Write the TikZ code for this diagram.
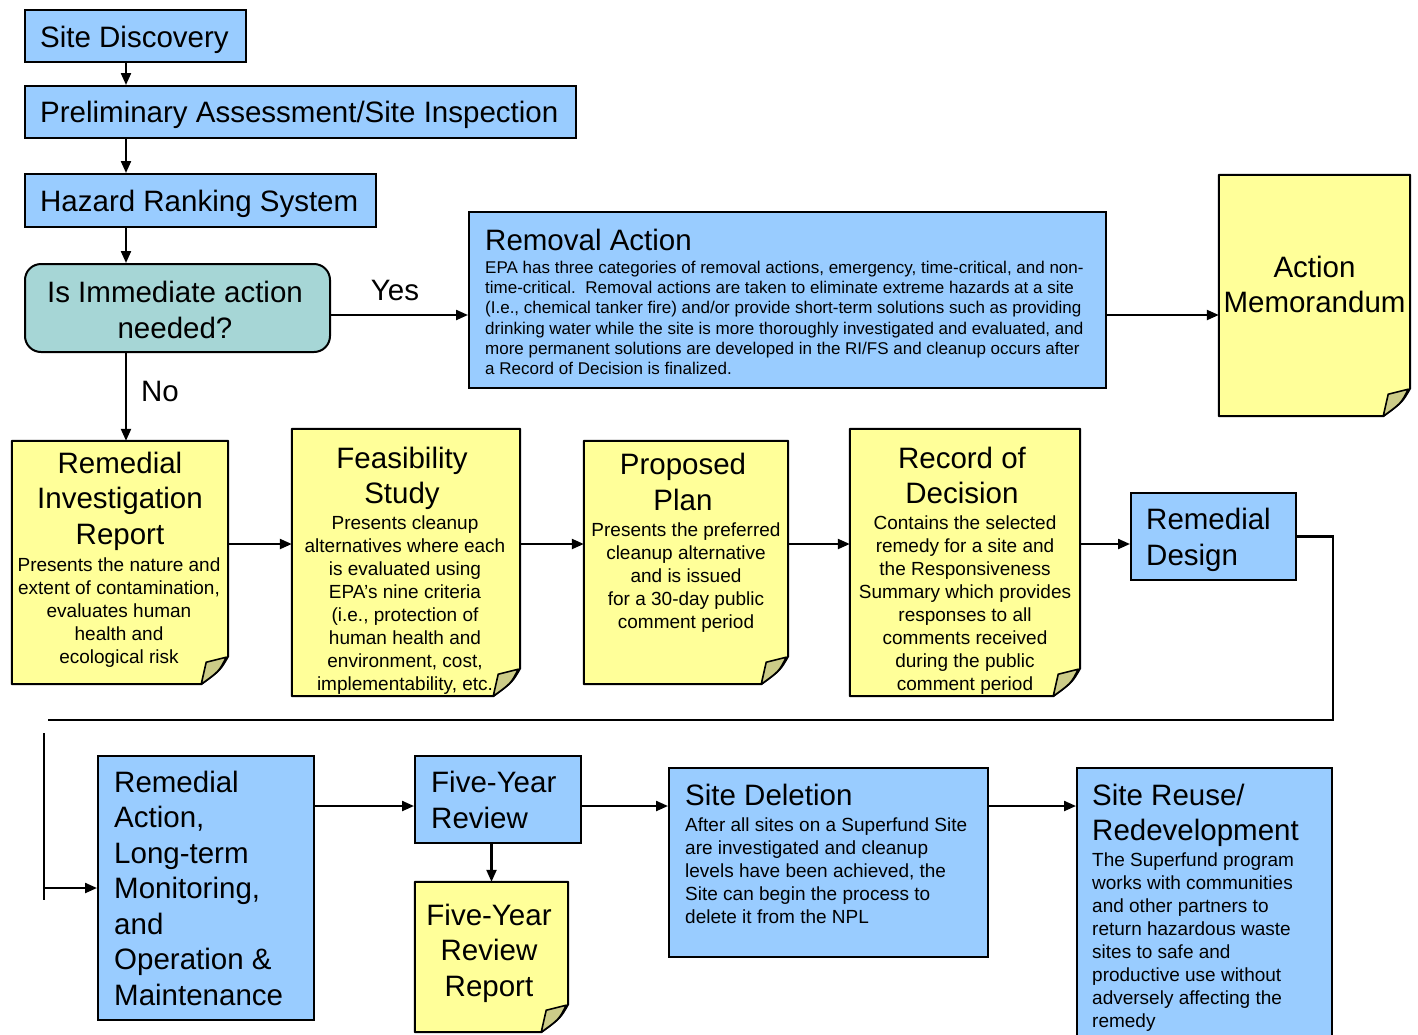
\documentclass[tikz,border=0pt]{standalone}
\usepackage{fontspec}
\setmainfont{Liberation Sans}
\usetikzlibrary{arrows.meta}
\definecolor{boxblue}{RGB}{153,204,255}
\definecolor{noteyellow}{RGB}{255,255,153}
\definecolor{foldolive}{RGB}{204,204,136}
\definecolor{decteal}{RGB}{166,214,214}
\newcommand\TT{\fontsize{29.5}{35.5}\selectfont}
\newcommand\BT{\fontsize{19}{23}\selectfont}
\newcommand\ST{\fontsize{17}{20.2}\selectfont}
\tikzset{
  bluebox/.style={draw=black, line width=2pt, fill=boxblue, inner sep=0pt},
  ghost/.style={draw=none, fill=none, inner sep=0pt},
  notefill/.style={draw=black, line width=2pt, fill=noteyellow, line join=round},
  foldfill/.style={draw=black, line width=1.6pt, fill=foldolive, line join=round},
  txt/.style={inner sep=0pt, text=black},
  conn/.style={draw=black, line width=2.2pt},
  arr/.style={conn, -{Triangle[length=12pt,width=10pt]}},
}
\newcommand\boxnode[6]{%
  \node[#1, minimum width={(#5-#3)*1pt}, minimum height={(#6-#4)*1pt}] (#2) at ({(#3+#5)/2},{(#4+#6)/2}) {};}
\newcommand\notebg[1]{%
  \path[notefill] (#1.north west) -- (#1.north east) -- ([yshift=28pt]#1.south east)
     .. controls ([xshift=-8pt,yshift=14pt]#1.south east) .. ([xshift=-27pt]#1.south east) -- (#1.south west) -- cycle;
  \path[foldfill] ([xshift=-2pt,yshift=27pt]#1.south east) -- ([xshift=-22pt,yshift=22pt]#1.south east)
     -- ([xshift=-27pt]#1.south east) .. controls ([xshift=-9pt,yshift=13pt]#1.south east) .. cycle;}
\begin{document}
\begin{tikzpicture}[x=1pt,y=-1pt]
\useasboundingbox (0,0) rectangle (1418,1034);
\fill[white] (0,0) rectangle (1418,1034);
\clip (0,0) rectangle (1418,1034);

% top column
\boxnode{bluebox}{sd}{25}{10}{246}{62}
\node[txt, anchor=west, font=\TT] (sd-t) at (40,40) {Site Discovery};
\boxnode{bluebox}{pa}{25}{86}{576}{138}
\node[txt, anchor=west, font=\TT] (pa-t) at (40,115) {Preliminary Assessment/Site Inspection};
\boxnode{bluebox}{hrs}{25}{174}{376}{227}
\node[txt, anchor=west, font=\TT] (hrs-t) at (40,204) {Hazard Ranking System};
\node[draw=black, line width=2pt, fill=decteal, rounded corners=16pt, minimum width=305pt, minimum height=88pt, inner sep=0pt] (dec) at (177.5,308) {};
\node[txt, font=\TT, align=center] (dec-t) at (175,310) {Is Immediate action\\needed?};

% removal action
\boxnode{bluebox}{ra}{469}{212}{1106}{388}
\node[txt, anchor=west, font=\TT] (ra-t) at (485,240) {Removal Action};
\node[txt, anchor=west, font=\ST, align=left] (ra-b) at (485,318) {EPA has three categories of removal actions, emergency, time-critical, and non-\\time-critical.\ \ Removal actions are taken to eliminate extreme hazards at a site\\(I.e., chemical tanker fire) and/or provide short-term solutions such as providing\\drinking water while the site is more thoroughly investigated and evaluated, and\\more permanent solutions are developed in the RI/FS and cleanup occurs after\\a Record of Decision is finalized.};

% action memorandum
\boxnode{ghost}{am}{1219}{175}{1410}{416}
\notebg{am}
\node[txt, font=\TT, align=center] (am-t) at (1314.5,284.5) {Action\\Memorandum};

% second row
\boxnode{ghost}{ri}{12}{441}{228}{684}
\notebg{ri}
\node[txt, font=\TT, align=center] (ri-t) at (120,501) {Remedial\\Investigation\\Report};
\node[txt, font=\BT, align=center] (ri-b) at (119,613) {Presents the nature and\\extent of contamination,\\evaluates human\\health and\\ecological risk};

\boxnode{ghost}{fs}{292}{429}{520}{696}
\notebg{fs}
\node[txt, font=\TT, align=center] (fs-t) at (402,478.5) {Feasibility\\Study};
\node[txt, font=\BT, align=center] (fs-b) at (405,605.5) {Presents cleanup\\alternatives where each\\is evaluated using\\EPA's nine criteria\\(i.e., protection of\\human health and\\environment, cost,\\implementability, etc.};

\boxnode{ghost}{pp}{584}{441}{788}{684}
\notebg{pp}
\node[txt, font=\TT, align=center] (pp-t) at (683,482) {Proposed\\Plan};
\node[txt, font=\BT, align=center] (pp-b) at (686,578) {Presents the preferred\\cleanup alternative\\and is issued\\for a 30-day public\\comment period};

\boxnode{ghost}{rod}{850}{429}{1080}{696}
\notebg{rod}
\node[txt, font=\TT, align=center] (rod-t) at (962,475.5) {Record of\\Decision};
\node[txt, font=\BT, align=center] (rod-b) at (965,605.5) {Contains the selected\\remedy for a site and\\the Responsiveness\\Summary which provides\\responses to all\\comments received\\during the public\\comment period};

\boxnode{bluebox}{rd}{1131}{493}{1296}{580}
\node[txt, anchor=west, font=\TT, align=left] (rd-t) at (1146,540) {Remedial\\Design};

% third row
\boxnode{bluebox}{rmact}{98}{756}{314}{1020}
\node[txt, anchor=west, font=\TT, align=left] (rmact-t) at (114,888) {Remedial\\Action,\\Long-term\\Monitoring,\\and\\Operation \&\\Maintenance};
\boxnode{bluebox}{fyr}{415}{756}{581}{843}
\node[txt, anchor=west, font=\TT, align=left] (fyr-t) at (431,800) {Five-Year\\Review};

\boxnode{ghost}{fyrr}{415}{882}{568}{1032}
\notebg{fyrr}
\node[txt, font=\TT, align=center] (fyrr-t) at (489,953) {Five-Year\\Review\\Report};

\boxnode{bluebox}{sdel}{669}{768}{988}{957}
\node[txt, anchor=west, font=\TT] (sdel-t) at (685,795) {Site Deletion};
\node[txt, anchor=west, font=\BT, align=left] (sdel-b) at (685,871) {After all sites on a Superfund Site\\are investigated and cleanup\\levels have been achieved, the\\Site can begin the process to\\delete it from the NPL};

\boxnode{bluebox}{srr}{1077}{768}{1332}{1045}
\node[txt, anchor=west, font=\TT, align=left] (srr-t) at (1092,815.5) {Site Reuse/\\Redevelopment};
\node[txt, anchor=west, font=\BT, align=left] (srr-b) at (1092,942) {The Superfund program\\works with communities\\and other partners to\\return hazardous waste\\sites to safe and\\productive use without\\adversely affecting the\\remedy};

% connectors
\coordinate (c126) at (126,0);
\coordinate (y315) at (0,315);
\coordinate (y544) at (0,544);
\coordinate (y806) at (0,806);
\draw[arr] (sd.south -| c126) -- (pa.north -| c126);
\draw[arr] (pa.south -| c126) -- (hrs.north -| c126);
\draw[arr] (hrs.south -| c126) -- (dec.north -| c126);
\draw[arr] (dec.south -| c126) -- (ri.north -| c126);
\node[txt, font=\TT] (no) at (160,391) {No};
\draw[arr] (dec.east |- y315) -- (ra.west |- y315);
\node[txt, font=\TT] (yes) at (395,290) {Yes};
\draw[arr] (ra.east |- y315) -- (am.west |- y315);
\draw[arr] (ri.east |- y544) -- (fs.west |- y544);
\draw[arr] (fs.east |- y544) -- (pp.west |- y544);
\draw[arr] (pp.east |- y544) -- (rod.west |- y544);
\draw[arr] (rod.east |- y544) -- (rd.west |- y544);
\coordinate (rdturn) at (1333,720);
\coordinate (lineend) at (48,720);
\draw[conn] (rd.east) -| (rdturn) -- (lineend);
\coordinate (vtop) at (44,733);
\coordinate (vbot) at (44,900);
\draw[conn] (vtop) -- (vbot);
\draw[arr] (vtop |- rmact.west) -- (rmact.west);
\draw[arr] (rmact.east |- y806) -- (fyr.west |- y806);
\draw[arr] (fyrr.north |- fyr.south) -- (fyrr.north);
\draw[arr] (fyr.east |- y806) -- (sdel.west |- y806);
\draw[arr] (sdel.east |- y806) -- (srr.west |- y806);
\end{tikzpicture}
\end{document}
